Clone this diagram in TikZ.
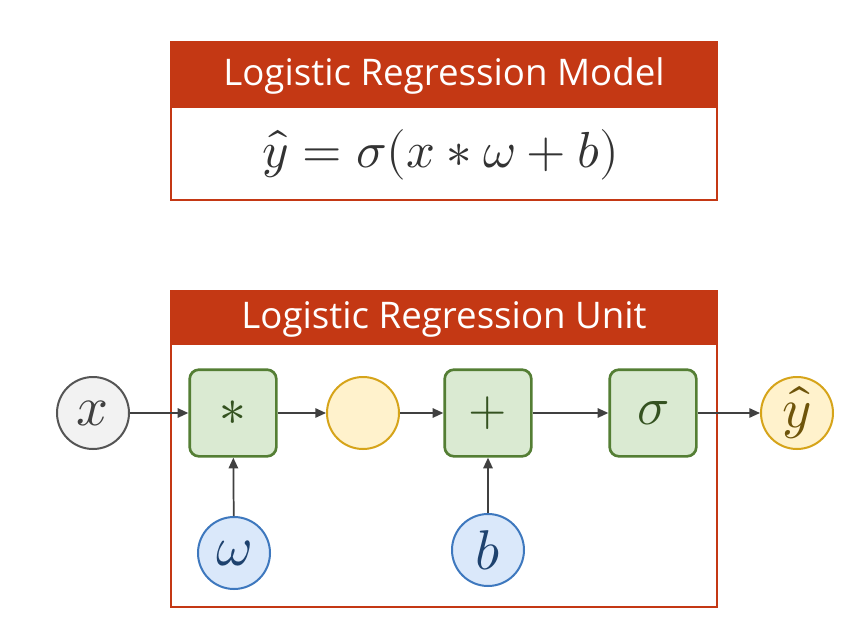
\documentclass[tikz,border=0pt]{standalone}
\usepackage{fontspec}
\usepackage{unicode-math}
\setmainfont{Open Sans}
\setmathfont{Latin Modern Math}
\usetikzlibrary{arrows.meta}
\definecolor{hdr}{RGB}{196,56,20}
\definecolor{grnfill}{RGB}{218,234,210}
\definecolor{grnline}{RGB}{84,126,52}
\definecolor{grntxt}{RGB}{52,82,32}
\definecolor{yelfill}{RGB}{255,242,204}
\definecolor{yelline}{RGB}{214,164,26}
\definecolor{yeltxt}{RGB}{110,84,10}
\definecolor{blufill}{RGB}{218,232,250}
\definecolor{bluline}{RGB}{62,120,190}
\definecolor{blutxt}{RGB}{30,66,110}
\definecolor{gryfill}{RGB}{242,242,242}
\definecolor{gryline}{RGB}{85,85,85}
\definecolor{arr}{RGB}{64,64,64}
\begin{document}
\begin{tikzpicture}[x=0.75pt,y=-0.75pt,
  frame/.style={draw=hdr,line width=1.5pt,fill=white},
  htext/.style={text=white,font=\fontsize{27.5}{32}\selectfont},
  opbox/.style={draw=grnline,fill=grnfill,line width=2pt,rounded corners=7pt,minimum width=65pt,minimum height=65pt,inner sep=0pt,text=grntxt,font=\fontsize{40}{44}\selectfont},
  var/.style={circle,line width=1.5pt,minimum size=54pt,inner sep=0pt,font=\fontsize{42}{46}\selectfont},
  gvar/.style={var,draw=gryline,fill=gryfill,text=black!75},
  yvar/.style={var,draw=yelline,fill=yelfill,text=yeltxt},
  bvar/.style={var,draw=bluline,fill=blufill,text=blutxt},
  conn/.style={draw=arr,line width=1.3pt,-{Triangle[length=8pt,width=7pt]}}]
\useasboundingbox[fill=white] (0,0) rectangle (858,639);
% top box
\draw[frame] (171,42) rectangle (717,200);
\fill[hdr] (171,42) rectangle (717,108);
\node[htext] (ttl1) at (444,76) {Logistic Regression Model};
\node[text=black!80,font=\fontsize{38}{44}\selectfont] (eq) at (441,155) {$\hat{y}=\sigma(x*\omega+b)$};
% bottom box
\draw[frame] (171,291) rectangle (717,607);
\fill[hdr] (171,291) rectangle (717,345);
\node[htext] (ttl2) at (444,319) {Logistic Regression Unit};
% nodes
\node[gvar] (x) at (93,413) {$x$};
\node[opbox] (mul) at (233,413) {$*$};
\node[yvar] (h) at (363,413) {};
\node[opbox,font=\fontsize{37}{40}\selectfont] (add) at (488,413) {$+$};
\node[opbox] (sig) at (653,413) {$\sigma$};
\node[yvar] (yh) at (797,413) {$\hat{y}$};
\node[bvar] (w) at (234,553) {$\omega$};
\node[bvar] (b) at (488,550) {$b$};
% connectors
\draw[conn] (x) -- (mul);
\draw[conn] (mul) -- (h);
\draw[conn] (h) -- (add);
\draw[conn] (add) -- (sig);
\draw[conn] (sig) -- (yh);
\draw[conn] (w) -- (mul);
\draw[conn] (b) -- (add);
\end{tikzpicture}
\end{document}
